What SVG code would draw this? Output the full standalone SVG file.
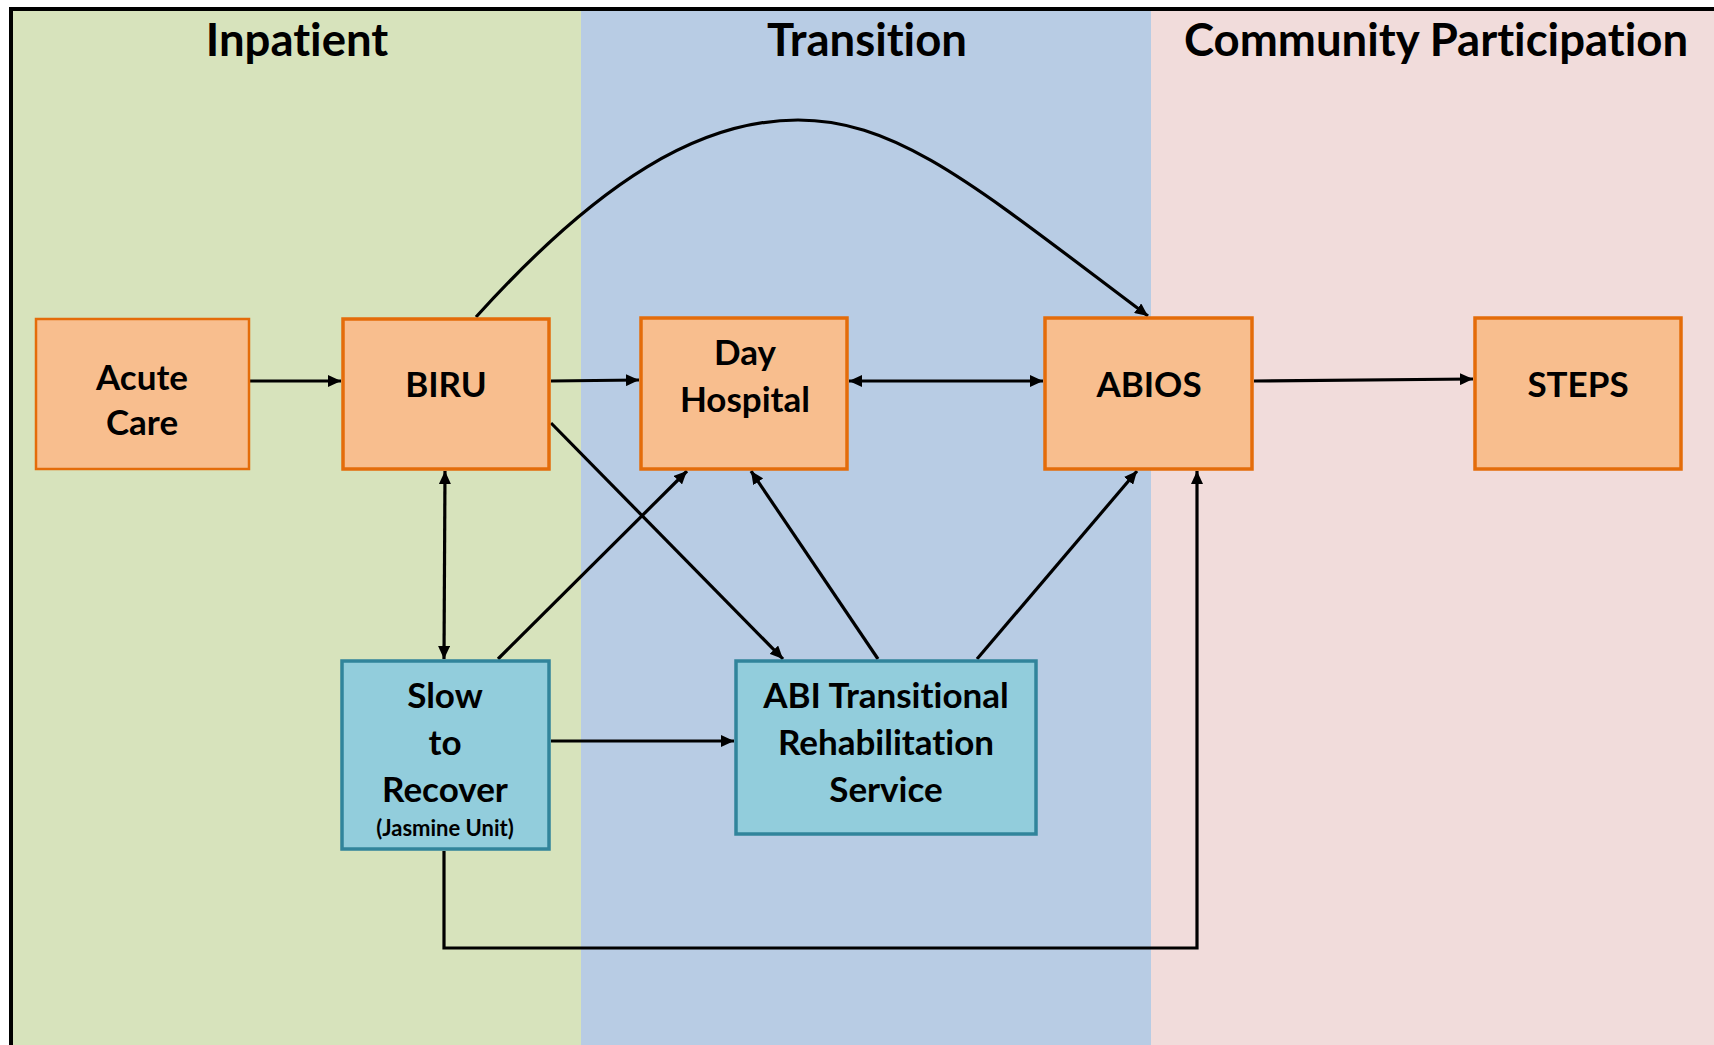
<svg xmlns="http://www.w3.org/2000/svg" width="1714" height="1045" viewBox="0 0 1714 1045">
  <style>
    text { font-variant-ligatures: none; font-feature-settings: "liga" 0, "clig" 0; }
    .hdr { font-family: Lato, "Open Sans", "Liberation Sans", sans-serif; font-weight: 700; font-size: 45.5px; fill: #000; text-anchor: middle; }
    .lbl { font-family: Lato, "Open Sans", "Liberation Sans", sans-serif; font-weight: 700; font-size: 35px; fill: #000; text-anchor: middle; }
    .sub { font-size: 22px; }
    .org { fill: #F8BE8E; stroke: #E46C0A; stroke-width: 3.5; }
    .teal { fill: #92CDDC; stroke: #31849B; stroke-width: 3.5; }
    .conn { fill: none; stroke: #000; stroke-width: 3.2; }
  </style>
  <defs>
    <marker id="arrow" markerUnits="userSpaceOnUse" viewBox="0 0 13 12" refX="13" refY="6" markerWidth="13" markerHeight="12" orient="auto-start-reverse">
      <path d="M0,0 L13,6 L0,12 z" fill="#000"/>
    </marker>
  </defs>

  <!-- background and phase bands -->
  <rect x="0" y="0" width="1714" height="1045" fill="#FFFFFF"/>
  <g id="bands">
    <rect x="11" y="9" width="570" height="1036" fill="#D7E3BC"/>
    <rect x="581" y="9" width="570" height="1036" fill="#B8CCE4"/>
    <rect x="1151" y="9" width="563" height="1036" fill="#F1DCDB"/>
    <line x1="9" y1="9" x2="1714" y2="9" stroke="#000" stroke-width="4"/>
    <line x1="11" y1="7" x2="11" y2="1045" stroke="#000" stroke-width="4"/>
  </g>

  <g id="headers">
    <text class="hdr" x="297" y="56">Inpatient</text>
    <text class="hdr" x="867" y="56">Transition</text>
    <text class="hdr" x="1436" y="56">Community Participation</text>
  </g>

  <!-- connectors -->
  <g id="connectors" class="conn">
    <path d="M249,381 L341,381" marker-end="url(#arrow)"/>
    <path d="M551,381 L639,380" marker-end="url(#arrow)"/>
    <path d="M849,381 L1043,381" marker-start="url(#arrow)" marker-end="url(#arrow)"/>
    <path d="M1254,381 L1473,379" marker-end="url(#arrow)"/>
    <path d="M476,317 C600,180 700,120 798,120 C900,120 980,190 1148,316" marker-end="url(#arrow)"/>
    <path d="M445,471 L444,659" marker-start="url(#arrow)" marker-end="url(#arrow)"/>
    <path d="M498,659 L687,471" marker-end="url(#arrow)"/>
    <path d="M551,423 L783,659" marker-end="url(#arrow)"/>
    <path d="M878,659 L751,471" marker-end="url(#arrow)"/>
    <path d="M977,659 L1137,471" marker-end="url(#arrow)"/>
    <path d="M551,741 L734,741" marker-end="url(#arrow)"/>
    <path d="M444,851 L444,948 L1197,948 L1197,471" marker-end="url(#arrow)"/>
  </g>

  <!-- nodes -->
  <g id="acute-care">
    <rect class="org" x="36" y="319" width="213" height="150" style="stroke-width:2.5"/>
    <text class="lbl" x="142" y="390">Acute</text>
    <text class="lbl" x="142" y="435">Care</text>
  </g>
  <g id="biru">
    <rect class="org" x="343" y="319" width="206" height="150"/>
    <text class="lbl" x="446" y="397">BIRU</text>
  </g>
  <g id="day-hospital">
    <rect class="org" x="641" y="318" width="206" height="151"/>
    <text class="lbl" x="745" y="365">Day</text>
    <text class="lbl" x="745" y="412">Hospital</text>
  </g>
  <g id="abios">
    <rect class="org" x="1045" y="318" width="207" height="151"/>
    <text class="lbl" x="1149" y="397">ABIOS</text>
  </g>
  <g id="steps">
    <rect class="org" x="1475" y="318" width="206" height="151"/>
    <text class="lbl" x="1578" y="397">STEPS</text>
  </g>
  <g id="slow-to-recover">
    <rect class="teal" x="342" y="661" width="207" height="188"/>
    <text class="lbl" x="445" y="708">Slow</text>
    <text class="lbl" x="445" y="755">to</text>
    <text class="lbl" x="445" y="802">Recover</text>
    <text class="lbl sub" x="445" y="836">(Jasmine Unit)</text>
  </g>
  <g id="abi-transitional">
    <rect class="teal" x="736" y="661" width="300" height="173"/>
    <text class="lbl" x="886" y="708">ABI Transitional</text>
    <text class="lbl" x="886" y="755">Rehabilitation</text>
    <text class="lbl" x="886" y="802">Service</text>
  </g>
</svg>
